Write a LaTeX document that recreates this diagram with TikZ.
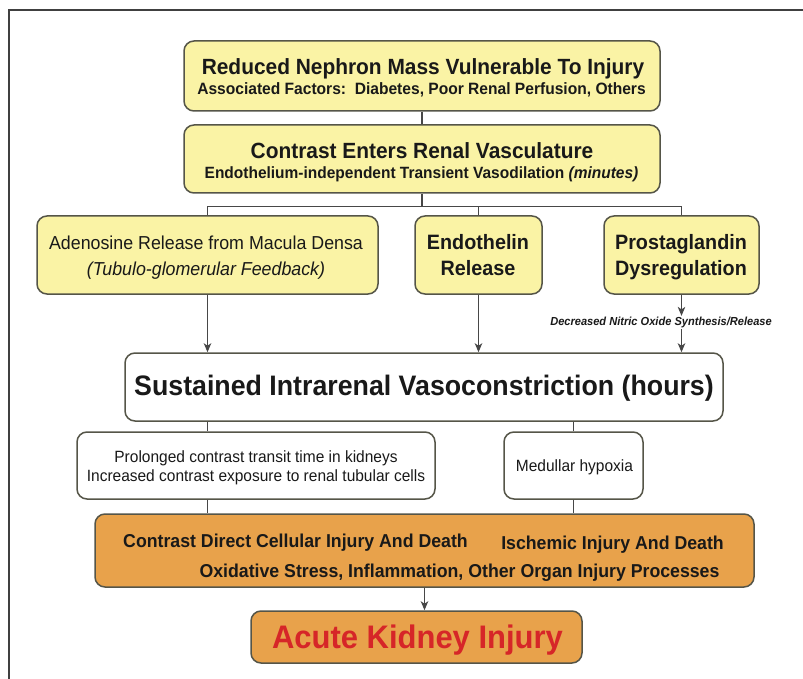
\documentclass[tikz,border=0pt]{standalone}
\usepackage{fontspec}
\setmainfont{Liberation Sans}[FakeStretch=0.95]
\usetikzlibrary{arrows.meta}
\definecolor{boxyellow}{RGB}{250,243,165}
\definecolor{boxorange}{RGB}{232,162,75}
\definecolor{akired}{RGB}{214,38,40}
\definecolor{edgegray}{RGB}{85,85,72}
\definecolor{ink}{RGB}{25,25,25}
\newcommand{\fsz}[2]{\fontsize{#1}{#2}\selectfont}
\begin{document}
\begin{tikzpicture}[x=1pt,y=-1pt,
  box/.style={draw=edgegray, line width=1.5pt, rounded corners=10pt, inner sep=0pt},
  ybox/.style={box, fill=boxyellow},
  wbox/.style={box, fill=white},
  obox/.style={box, fill=boxorange},
  link/.style={draw=black!72, line width=1.3pt},
  arr/.style={link, -{Stealth[length=9pt,width=7.5pt,inset=2.5pt]}},
  lbl/.style={text=ink, inner sep=0pt, anchor=base}
]
\useasboundingbox (0,0) rectangle (803,679);
\draw[line width=1.3pt, draw=black!75] (9,679) -- (9,10) -- (803,10);

% boxes
\node[ybox, minimum width=476pt, minimum height=70pt] (top) at (422,76) {};
\node[ybox, minimum width=476pt, minimum height=68pt] (con) at (422,159) {};
\node[ybox, minimum width=341pt, minimum height=78pt] (ade) at (207.5,255) {};
\node[ybox, minimum width=127pt, minimum height=78pt] (end) at (478.5,255) {};
\node[ybox, minimum width=155pt, minimum height=78pt] (pro) at (681.5,255) {};
\node[wbox, minimum width=598pt, minimum height=68pt] (sus) at (424,387) {};
\node[wbox, minimum width=358pt, minimum height=67pt] (prl) at (256,465.5) {};
\node[wbox, minimum width=139pt, minimum height=67pt] (med) at (573.5,465.5) {};
\node[obox, minimum width=659pt, minimum height=73pt] (dmg) at (424.5,550.5) {};
\node[obox, minimum width=331pt, minimum height=52pt] (aki) at (416.5,637) {};

% texts
\node[lbl, font=\bfseries\fsz{22}{24}] (t1a) at (423,75) {Reduced Nephron Mass Vulnerable To Injury};
\node[lbl, font=\bfseries\fsz{16.4}{18}] (t1b) at (421.5,95) {Associated Factors:~~Diabetes, Poor Renal Perfusion, Others};
\node[lbl, font=\bfseries\fsz{22}{24}] (t2a) at (422,159) {Contrast Enters Renal Vasculature};
\node[lbl, font=\bfseries\fsz{16.3}{18}] (t2b) at (421.5,179) {Endothelium-independent Transient Vasodilation \textit{(minutes)}};
\node[lbl, font=\fsz{18.75}{20}] (t3a) at (206,250) {Adenosine Release from Macula Densa};
\node[lbl, font=\itshape\fsz{18.75}{20}] (t3b) at (206,275) {(Tubulo-glomerular Feedback)};
\node[lbl, font=\bfseries\fsz{20.8}{22}] (t4a) at (478,250) {Endothelin};
\node[lbl, font=\bfseries\fsz{20.8}{22}] (t4b) at (478,275) {Release};
\node[lbl, font=\bfseries\fsz{20.8}{22}] (t5a) at (681,250) {Prostaglandin};
\node[lbl, font=\bfseries\fsz{20.8}{22}] (t5b) at (681,275) {Dysregulation};
\node[text=ink, inner sep=1pt, font=\bfseries\itshape\fsz{11.65}{13}] (no) at (661,322.5)
  {Decreased Nitric Oxide Synthesis/Release};
\node[lbl, font=\bfseries\fsz{28.15}{30}] (t6) at (424,395.5) {Sustained Intrarenal Vasoconstriction (hours)};
\node[lbl, font=\fsz{16.3}{18}] (t7a) at (256,462) {Prolonged contrast transit time in kidneys};
\node[lbl, font=\fsz{16.3}{18}] (t7b) at (256,481.5) {Increased contrast exposure to renal tubular cells};
\node[lbl, font=\fsz{16.3}{18}] (t8) at (574.5,471) {Medullar hypoxia};
\node[lbl, font=\bfseries\fsz{18.65}{20}] (d1) at (295.5,547) {Contrast Direct Cellular Injury And Death};
\node[lbl, font=\bfseries\fsz{18.65}{20}] (d2) at (612.5,549) {Ischemic Injury And Death};
\node[lbl, font=\bfseries\fsz{18.65}{20}] (d3) at (459.5,577.5) {Oxidative Stress, Inflammation, Other Organ Injury Processes};
\node[lbl, text=akired, font=\bfseries\fsz{32.6}{34}] (t9) at (417.5,648) {Acute Kidney Injury};

% connectors
\draw[link] (top.south) -- (con.north);
\draw[link] (con.south) -- ++(0,13) coordinate (bar);
\draw[link] (ade.north) |- (bar) -| (pro.north);
\draw[link] (end.north) -- (end.north |- bar);
\draw[arr] (ade.south) -- (ade.south |- sus.north);
\draw[arr] (end.south) -- (end.south |- sus.north);
\draw[arr] (pro.south) -- (pro.south |- no.north);
\draw[arr] (pro.south |- no.south) -- (pro.south |- sus.north);
\draw[link] (ade.south |- sus.south) -- (ade.south |- prl.north);
\draw[link] (med.north |- sus.south) -- (med.north);
\draw[link] (ade.south |- prl.south) -- (ade.south |- dmg.north);
\draw[link] (med.south) -- (med.south |- dmg.north);
\draw[arr] (dmg.south) -- (dmg.south |- aki.north);
\end{tikzpicture}
\end{document}
